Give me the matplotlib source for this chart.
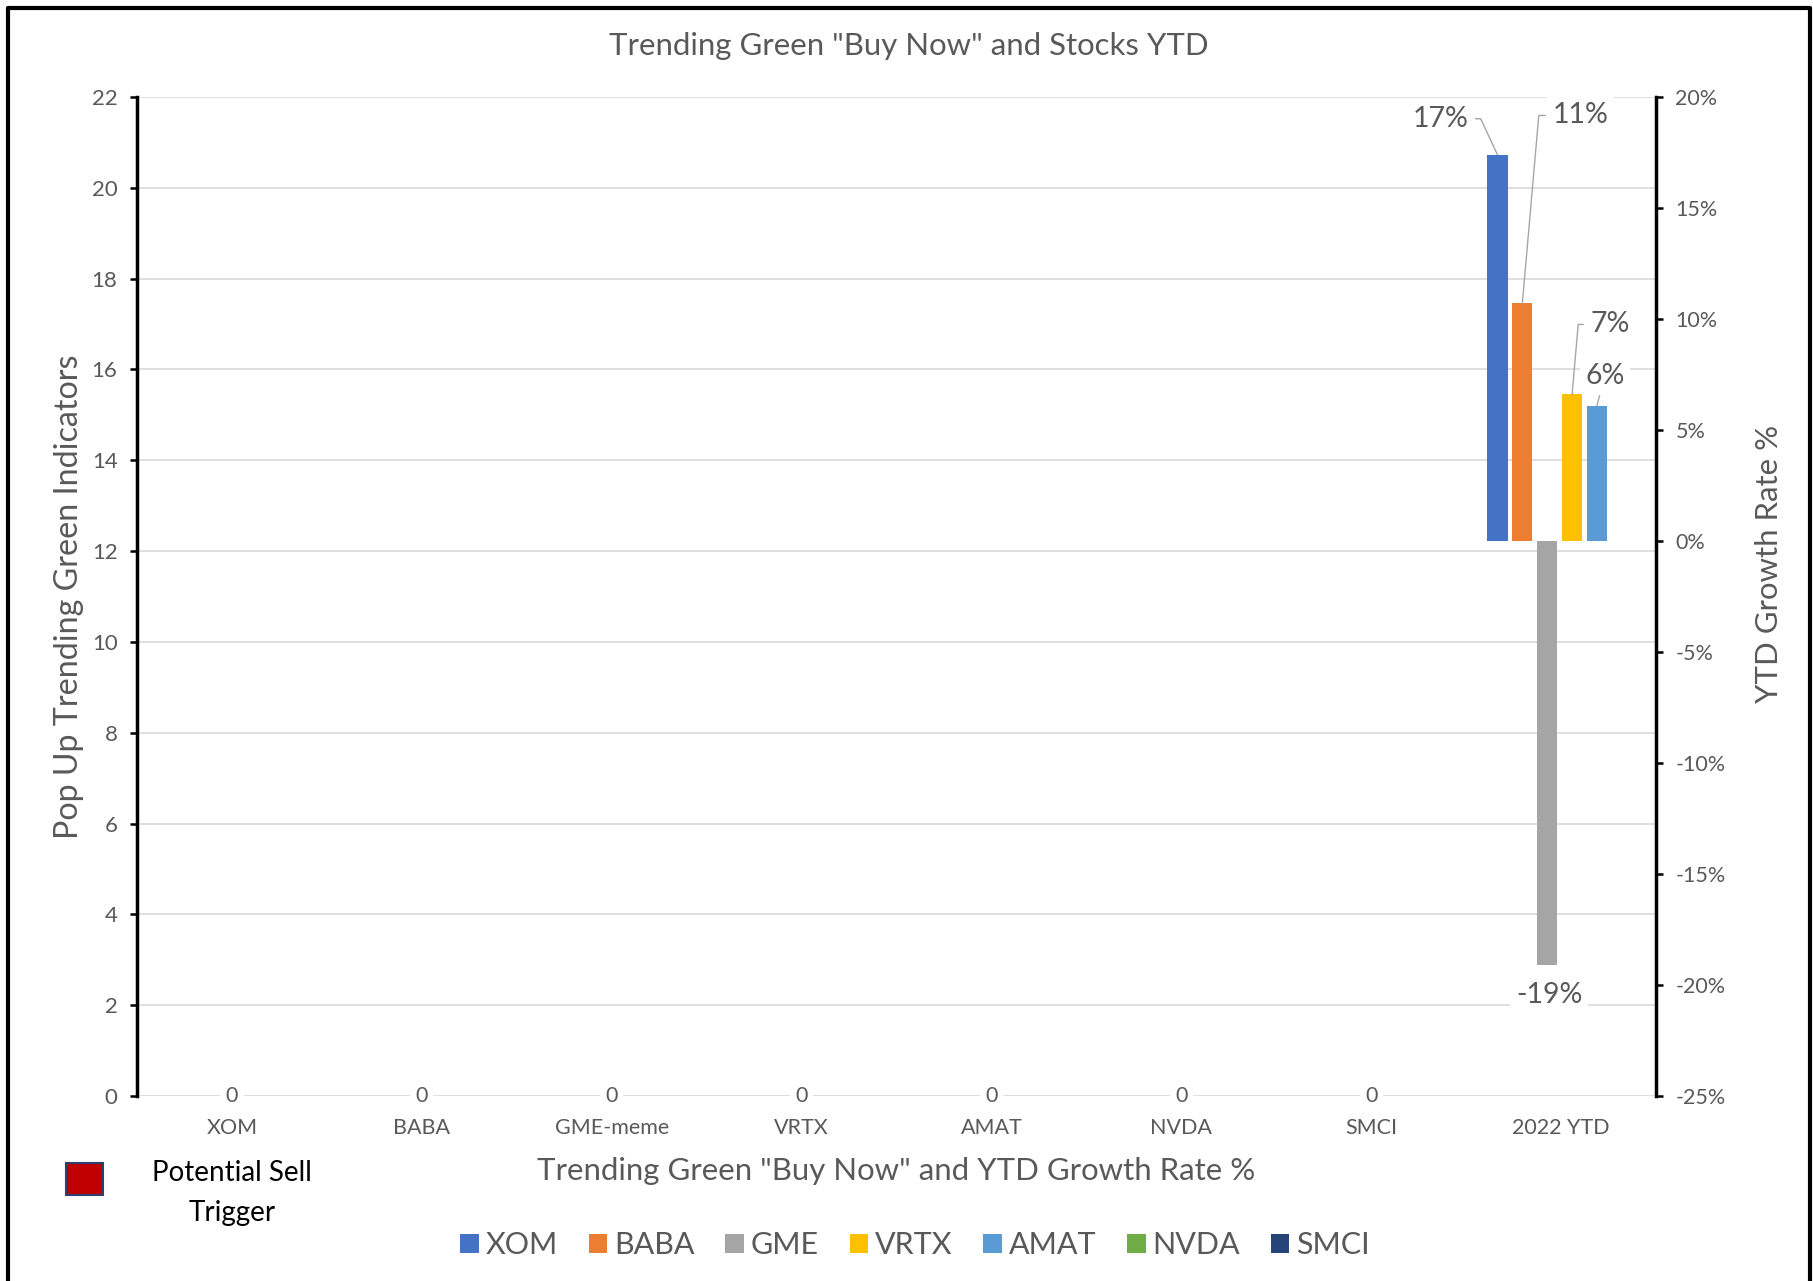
import matplotlib
matplotlib.use("Agg")
import matplotlib.pyplot as plt
import numpy as np
from matplotlib.lines import Line2D
from matplotlib.patches import Rectangle

plt.rcParams['font.family'] = ['Lato', 'DejaVu Sans']

# data
categories = ['XOM', 'BABA', 'GME-meme', 'VRTX', 'AMAT', 'NVDA', 'SMCI', '2022 YTD']
trend_counts = [0, 0, 0, 0, 0, 0, 0]          # primary axis, first 7 categories
series = ['XOM', 'BABA', 'GME', 'VRTX', 'AMAT', 'NVDA', 'SMCI']
ytd_growth = [17.4, 10.7, -19.1, 6.6, 6.1, np.nan, np.nan]   # % on secondary axis
colors = ['#4472C4', '#ED7D31', '#A5A5A5', '#FFC000', '#5B9BD5', '#70AD47', '#264478']

gray = '#595959'
W, H = 1813, 1281
fig = plt.figure(figsize=(W / 100, H / 100), dpi=100)

# axes box: left axis x=137, right axis x=1656, top y=97, bottom y=1096 (pixels)
ax = fig.add_axes([137 / W, 1 - 1096 / H, (1656 - 137) / W, (1096 - 97) / H])
ax2 = ax.twinx()

ax.set_xlim(-0.5, len(categories) - 0.5)
ax.set_ylim(0, 22)
ax.set_yticks(np.arange(0, 23, 2))
ax.grid(axis='y', color='#D9D9D9', linewidth=1.2)
ax.set_axisbelow(True)
ax.set_xticks(range(len(categories)))
ax.set_xticklabels(categories, fontsize=15.5, color=gray)
ax.tick_params(axis='x', length=0, pad=16)
ax.tick_params(axis='y', direction='out', length=5, width=1.8, color='black',
               labelsize=16, labelcolor=gray, pad=9)
for s in ['top', 'bottom', 'right']:
    ax.spines[s].set_visible(False)
ax.spines['left'].set_linewidth(2.5)

# zero value labels on the primary series
for i, v in enumerate(trend_counts):
    ax.text(i, v, str(v), ha='center', va='center', fontsize=15.5, color=gray,
            bbox=dict(boxstyle='square,pad=0.25', fc='white', ec='none'), zorder=4)

# secondary axis: YTD growth bars at the last category
ax2.set_ylim(-25, 20)
ax2.set_yticks(np.arange(-25, 21, 5))
ax2.set_yticklabels([f'{t}%' for t in range(-25, 21, 5)])
ax2.tick_params(axis='y', direction='out', length=5, width=1.8, color='black',
                labelsize=15.5, labelcolor=gray, pad=9)
for s in ['top', 'bottom', 'left']:
    ax2.spines[s].set_visible(False)
ax2.spines['right'].set_linewidth(2.5)

ytd_pos = len(categories) - 1
step, width, shift = 0.131, 0.107, 0.058
offsets = (np.arange(len(series)) - 3) * step + shift
bars = []
for name, val, col, off in zip(series, ytd_growth, colors, offsets):
    b = ax2.bar(ytd_pos + off, 0 if np.isnan(val) else val, width=width,
                color=col, label=name, zorder=3)
    bars.append(b)

# data labels with leader lines (pixel offsets from bar end, leader angle)
label_place = {'XOM': (-57, 36, 115), 'BABA': (58, 188, 85), 'GME': (2, -30, None),
               'VRTX': (38, 70, 85), 'AMAT': (8, 30, None)}
for name, val, off in zip(series, ytd_growth, offsets):
    if np.isnan(val):
        continue
    dx, dy, ang = label_place[name]
    if name == 'GME':
        arrow = None
    elif ang is None:
        arrow = dict(arrowstyle='-', color='#A6A6A6', lw=1, shrinkA=1, shrinkB=0)
    else:
        arrow = dict(arrowstyle='-', color='#A6A6A6', lw=1, shrinkA=1, shrinkB=0,
                     connectionstyle=f'angle,angleA=0,angleB={ang},rad=0')
    ax2.annotate(f'{val:.0f}%', xy=(ytd_pos + off, val), xytext=(dx, dy),
                 textcoords='offset pixels', ha='center', va='center',
                 fontsize=20.5, color=gray, arrowprops=arrow,
                 bbox=dict(boxstyle='square,pad=0.2', fc='white', ec='none'),
                 zorder=5)

# titles and axis labels
fig.text(909 / W, 1 - 46 / H, 'Trending Green "Buy Now" and Stocks YTD',
         ha='center', va='center', fontsize=22.4, color=gray)
fig.text(69 / W, 1 - 597 / H, 'Pop Up Trending Green Indicators', rotation=90,
         ha='center', va='center', fontsize=23.2, color=gray)
fig.text(1769 / W, 1 - 564 / H, 'YTD Growth Rate %', rotation=90,
         ha='center', va='center', fontsize=22.4, color=gray)
fig.text(896 / W, 1 - 1171 / H, 'Trending Green "Buy Now" and YTD Growth Rate %',
         ha='center', va='center', fontsize=22.4, color=gray)

# legend
leg = fig.legend(handles=[b[0] for b in bars], labels=series, loc='center',
                 bbox_to_anchor=(915 / W, 1 - 1245 / H), ncol=7, frameon=False,
                 fontsize=22, handlelength=0.6, handleheight=0.6,
                 handletextpad=0.22, columnspacing=1.02)
for t in leg.get_texts():
    t.set_color(gray)

# "Potential Sell Trigger" key
fig.add_artist(Rectangle((66 / W, 1 - 1195 / H), 37 / W, 32 / H,
                         facecolor='#C00000', edgecolor='#2F3F6F', lw=1.5,
                         transform=fig.transFigure))
fig.text(232 / W, 1 - 1173 / H, 'Potential Sell', ha='center', va='center',
         fontsize=20, color='black')
fig.text(232 / W, 1 - 1213 / H, 'Trigger', ha='center', va='center',
         fontsize=20, color='black')

# outer frame (left, top, right only; cut at the bottom)
frame_x = [8 / W, 8 / W, 1810 / W, 1810 / W]
frame_y = [0, 1 - 8 / H, 1 - 8 / H, 0]
fig.add_artist(Line2D(frame_x, frame_y, color='black', lw=3,
                      transform=fig.transFigure))

fig.savefig('out.png', dpi=100, facecolor='white')
